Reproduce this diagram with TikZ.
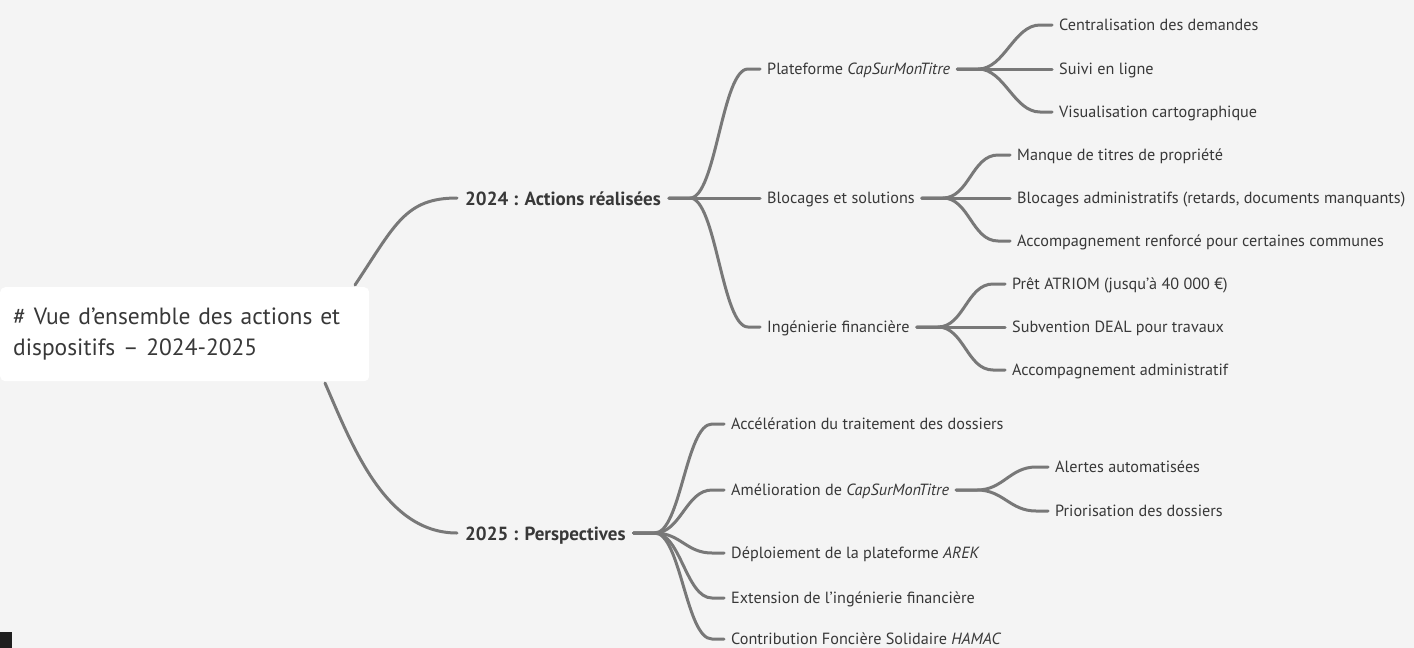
\documentclass[tikz,border=0pt]{standalone}
\usepackage{fontspec}
\setmainfont{PT Sans}
\usetikzlibrary{calc}
\definecolor{bg}{HTML}{F4F4F4}
\definecolor{ln}{HTML}{787878}
\definecolor{tx}{HTML}{383838}
\tikzset{
  lbl/.style={anchor=west, inner xsep=7pt, inner ysep=0pt, text height=12pt, text depth=1pt, text=tx, font=\fontsize{16.2}{18}\selectfont},
  mainlbl/.style={anchor=west, inner xsep=8pt, inner ysep=0pt, text height=15pt, text depth=1pt, text=tx, font=\fontsize{19}{22}\selectfont\bfseries},
  rootbox/.style={anchor=north west, fill=white, rounded corners=5pt, minimum width=369pt, minimum height=94pt, text width=343pt, inner xsep=13pt, align=left, text=tx, font=\fontsize{23.5}{31}\selectfont},
  conn/.style={draw=ln, line width=3pt, line cap=round},
  br/.style={to path={-- ++(21,0) .. controls +(26,0) and ($(\tikztotarget)+(-38,0)$) .. ($(\tikztotarget)+(-12,0)$) -- (\tikztotarget)}},
}
\begin{document}
\begin{tikzpicture}[x=1pt,y=-1pt]
\fill[bg] (0,0) rectangle (1414,648);
\useasboundingbox (0,0) rectangle (1414,648);

% level 1
\node[mainlbl] (a24) at (457,198) {2024 : Actions réalisées};
\node[mainlbl] (a25) at (457,533) {2025 : Perspectives};

% level 2 (2024)
\node[lbl] (plat) at (760,69) {Plateforme \textit{CapSurMonTitre}};
\node[lbl] (bloc) at (760,198) {Blocages et solutions};
\node[lbl] (inge) at (760,327) {Ingénierie financière};

% level 3
\node[lbl] (p1) at (1052,25) {Centralisation des demandes};
\node[lbl] (p2) at (1052,69) {Suivi en ligne};
\node[lbl] (p3) at (1052,112) {Visualisation cartographique};
\node[lbl] (b1) at (1010,155) {Manque de titres de propriété};
\node[lbl] (b2) at (1010,198) {Blocages administratifs (retards, documents manquants)};
\node[lbl] (b3) at (1010,241) {Accompagnement renforcé pour certaines communes};
\node[lbl] (i1) at (1005,284) {Prêt ATRIOM (jusqu'à 40 000 €)};
\node[lbl] (i2) at (1005,327) {Subvention DEAL pour travaux};
\node[lbl] (i3) at (1005,370) {Accompagnement administratif};

% level 2 (2025)
\node[lbl] (e1) at (724,424) {Accélération du traitement des dossiers};
\node[lbl] (e2) at (724,490) {Amélioration de \textit{CapSurMonTitre}};
\node[lbl] (e3) at (724,553) {Déploiement de la plateforme \textit{AREK}};
\node[lbl] (e4) at (724,598) {Extension de l'ingénierie financière};
\node[lbl] (e5) at (724,639) {Contribution Foncière Solidaire \textit{HAMAC}};
\node[lbl] (m1) at (1048,467) {Alertes automatisées};
\node[lbl] (m2) at (1048,511) {Priorisation des dossiers};

% connectors
\foreach \p/\c in {a24/plat,a24/bloc,a24/inge,plat/p1,plat/p2,plat/p3,bloc/b1,bloc/b2,bloc/b3,inge/i1,inge/i2,inge/i3,a25/e1,a25/e2,a25/e3,a25/e4,a25/e5,e2/m1,e2/m2}
  \draw[conn] (\p.east) to[br] (\c.west);

% root
\coordinate (rt1) at (355,285);
\coordinate (rt2) at (325,383);
\draw[conn] (rt1) .. controls (395,225) and (405,198) .. (a24.west);
\draw[conn] (rt2) .. controls (352,445) and (385,533) .. (a25.west);
\node[rootbox] (root) at (0,287) {\# Vue d’ensemble des actions et\\dispositifs – 2024-2025};

\fill[black!88] (0,632) rectangle (12,648);
\end{tikzpicture}
\end{document}
